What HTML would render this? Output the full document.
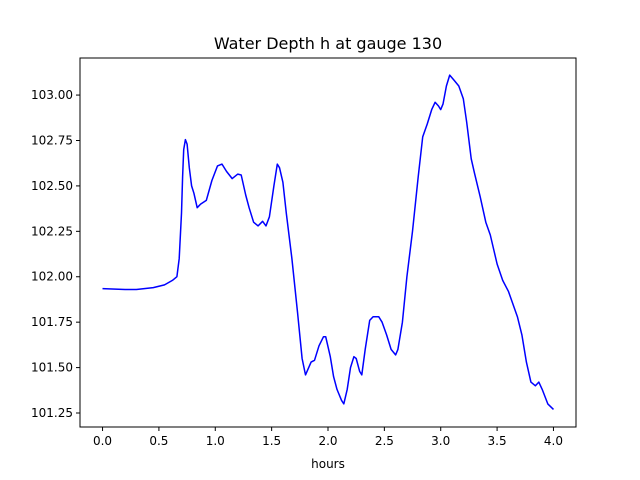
<!DOCTYPE html>
<html><head><meta charset="utf-8"><style>
body{margin:0;background:#fff;}
svg{display:block;font-family:"DejaVu Sans","Liberation Sans",sans-serif;}
</style></head><body>
<svg id="chart" width="640" height="480">
<rect width="640" height="480" fill="#fff"/>
<text x="328" y="49" font-size="16" text-anchor="middle">Water Depth h at gauge 130</text>
<g id="axes"></g>
<polyline id="series" fill="none" stroke="#0000ff" stroke-width="1.5" stroke-linejoin="round"/>
<rect x="80" y="58" width="496" height="369" fill="none" stroke="#000" stroke-width="1"/>
<text x="328" y="468" font-size="12" text-anchor="middle">hours</text>
</svg>
<script>
const hours=[0,0.2,0.3,0.45,0.55,0.62,0.66,0.68,0.70,0.71,0.72,0.735,0.75,0.77,0.79,0.81,0.84,0.87,0.92,0.97,1.02,1.06,1.1,1.15,1.2,1.23,1.27,1.3,1.34,1.38,1.42,1.45,1.48,1.52,1.55,1.57,1.6,1.63,1.68,1.73,1.77,1.8,1.85,1.88,1.92,1.96,1.98,2.02,2.05,2.08,2.12,2.14,2.17,2.2,2.23,2.25,2.28,2.3,2.33,2.37,2.4,2.45,2.48,2.52,2.56,2.6,2.62,2.66,2.7,2.75,2.8,2.84,2.88,2.92,2.95,2.98,3.0,3.02,3.05,3.08,3.12,3.16,3.2,3.23,3.27,3.3,3.35,3.4,3.44,3.47,3.5,3.55,3.6,3.64,3.68,3.72,3.76,3.8,3.84,3.87,3.9,3.95,4.0];
const depth=[101.935,101.93,101.93,101.94,101.955,101.98,102.0,102.1,102.35,102.55,102.7,102.755,102.73,102.6,102.5,102.46,102.38,102.4,102.42,102.53,102.61,102.62,102.58,102.54,102.565,102.56,102.45,102.38,102.3,102.28,102.305,102.28,102.33,102.5,102.62,102.6,102.52,102.35,102.1,101.8,101.55,101.46,101.53,101.54,101.62,101.67,101.67,101.56,101.45,101.38,101.32,101.3,101.38,101.5,101.56,101.55,101.48,101.46,101.6,101.76,101.78,101.78,101.75,101.68,101.6,101.57,101.6,101.75,102.0,102.25,102.55,102.77,102.84,102.92,102.96,102.94,102.92,102.95,103.05,103.11,103.08,103.05,102.98,102.85,102.65,102.57,102.44,102.3,102.23,102.15,102.07,101.98,101.92,101.85,101.78,101.68,101.53,101.42,101.4,101.42,101.38,101.3,101.27];
const xTicks=[0,0.5,1,1.5,2,2.5,3,3.5,4];
const xTickLabels=["0.0","0.5","1.0","1.5","2.0","2.5","3.0","3.5","4.0"];
const yTicks=[101.25,101.5,101.75,102,102.25,102.5,102.75,103];
const yTickLabels=["101.25","101.50","101.75","102.00","102.25","102.50","102.75","103.00"];

const L=80,R=576,T=58,B=427;
const xMin=-0.2,xMax=4.2,yMin=101.173,yMax=103.204;
function sx(v){return L+(v-xMin)/(xMax-xMin)*(R-L);}
function sy(v){return B-(v-yMin)/(yMax-yMin)*(B-T);}
const NS="http://www.w3.org/2000/svg";
const axes=document.getElementById('axes');
xTicks.forEach((t,i)=>{
  const l=document.createElementNS(NS,'line');
  
  
  l.setAttribute('x1',sx(t));l.setAttribute('x2',sx(t));l.setAttribute('y1',B);l.setAttribute('y2',B+4);l.setAttribute('stroke','#000');
  axes.appendChild(l);
  const tx=document.createElementNS(NS,'text');
  
  
  tx.setAttribute('x',sx(t));tx.setAttribute('y',B+18);tx.setAttribute('font-size','12');tx.setAttribute('text-anchor','middle');
  tx.textContent=xTickLabels[i];axes.appendChild(tx);
});
yTicks.forEach((t,i)=>{
  const l=document.createElementNS(NS,'line');
  
  
  l.setAttribute('x1',L-4);l.setAttribute('x2',L);l.setAttribute('y1',sy(t));l.setAttribute('y2',sy(t));l.setAttribute('stroke','#000');
  axes.appendChild(l);
  const tx=document.createElementNS(NS,'text');
  
  
  tx.setAttribute('x',L-7);tx.setAttribute('y',sy(t)+4);tx.setAttribute('font-size','12');tx.setAttribute('text-anchor','end');
  tx.textContent=yTickLabels[i];axes.appendChild(tx);
});
document.getElementById('series').setAttribute('points',hours.map((h,i)=>sx(h).toFixed(1)+','+sy(depth[i]).toFixed(1)).join(' '));
</script>
</body></html>
